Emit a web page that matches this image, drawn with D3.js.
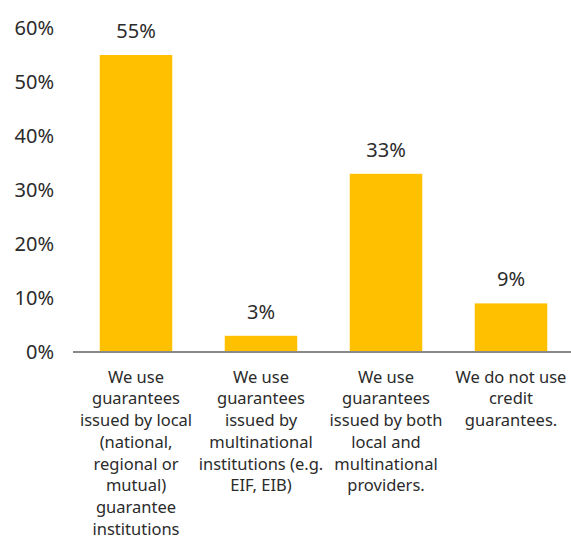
<!DOCTYPE html>
<html>
<head>
    <meta charset="utf-8">
    <style>
        body { margin: 0; background: #fff; }
        text { font-family: 'Noto Sans', sans-serif; fill: #2b2b2b; }
    </style>
</head>
<body>
<script src="https://cdnjs.cloudflare.com/ajax/libs/d3/7.8.5/d3.min.js"></script>
<script>
    // category labels, one list of lines per bar
    var categories = [
        ['We use', 'guarantees', 'issued by local', '(national,', 'regional or', 'mutual)', 'guarantee', 'institutions'],
        ['We use', 'guarantees', 'issued by', 'multinational', 'institutions (e.g.', 'EIF, EIB)'],
        ['We use', 'guarantees', 'issued by both', 'local and', 'multinational', 'providers.'],
        ['We do not use', 'credit', 'guarantees.']
    ];
    var values = [0.55, 0.03, 0.33, 0.09];
    var yTicks = [0, 0.1, 0.2, 0.3, 0.4, 0.5, 0.6];

    var width = 571, height = 540;
    var svg = d3.select('body').append('svg')
        .attr('width', width)
        .attr('height', height);

    var x = d3.scaleBand()
        .domain(d3.range(values.length))
        .range([73.5, 573.5])
        .paddingInner(0.42)
        .paddingOuter(0.21);

    var y = d3.scaleLinear()
        .domain([0, 0.6])
        .range([352, 28]);

    var fmt = d3.format('.0%');

    // y tick labels
    svg.selectAll('.ylab').data(yTicks).enter()
        .append('text')
        .attr('class', 'ylab')
        .attr('x', 54)
        .attr('y', function (d) { return y(d); })
        .attr('dy', '0.35em')
        .attr('text-anchor', 'end')
        .style('font-size', '20px')
        .text(fmt);

    // bars
    svg.selectAll('.bar').data(values).enter()
        .append('rect')
        .attr('class', 'bar')
        .attr('x', function (d, i) { return x(i); })
        .attr('y', function (d) { return y(d); })
        .attr('width', x.bandwidth())
        .attr('height', function (d) { return y(0) - y(d); })
        .style('fill', '#FFC000');

    // value labels
    svg.selectAll('.val').data(values).enter()
        .append('text')
        .attr('class', 'val')
        .attr('x', function (d, i) { return x(i) + x.bandwidth() / 2; })
        .attr('y', function (d) { return y(d) - 24; })
        .attr('dy', '0.35em')
        .attr('text-anchor', 'middle')
        .style('font-size', '20px')
        .text(fmt);

    // baseline
    svg.append('line')
        .attr('x1', 73)
        .attr('x2', width)
        .attr('y1', y(0))
        .attr('y2', y(0))
        .style('stroke', '#898989')
        .style('stroke-width', 2);

    // category labels
    var cat = svg.selectAll('.cat').data(categories).enter()
        .append('text')
        .attr('class', 'cat')
        .attr('text-anchor', 'middle')
        .style('font-size', '16.5px');

    cat.selectAll('tspan').data(function (d, i) {
            return d.map(function (s) { return { s: s, i: i }; });
        }).enter()
        .append('tspan')
        .attr('x', function (d) { return x(d.i) + x.bandwidth() / 2; })
        .attr('y', function (d, j) { return 377 + j * 21.7; })
        .attr('dy', '0.35em')
        .text(function (d) { return d.s; });
</script>
</body>
</html>
